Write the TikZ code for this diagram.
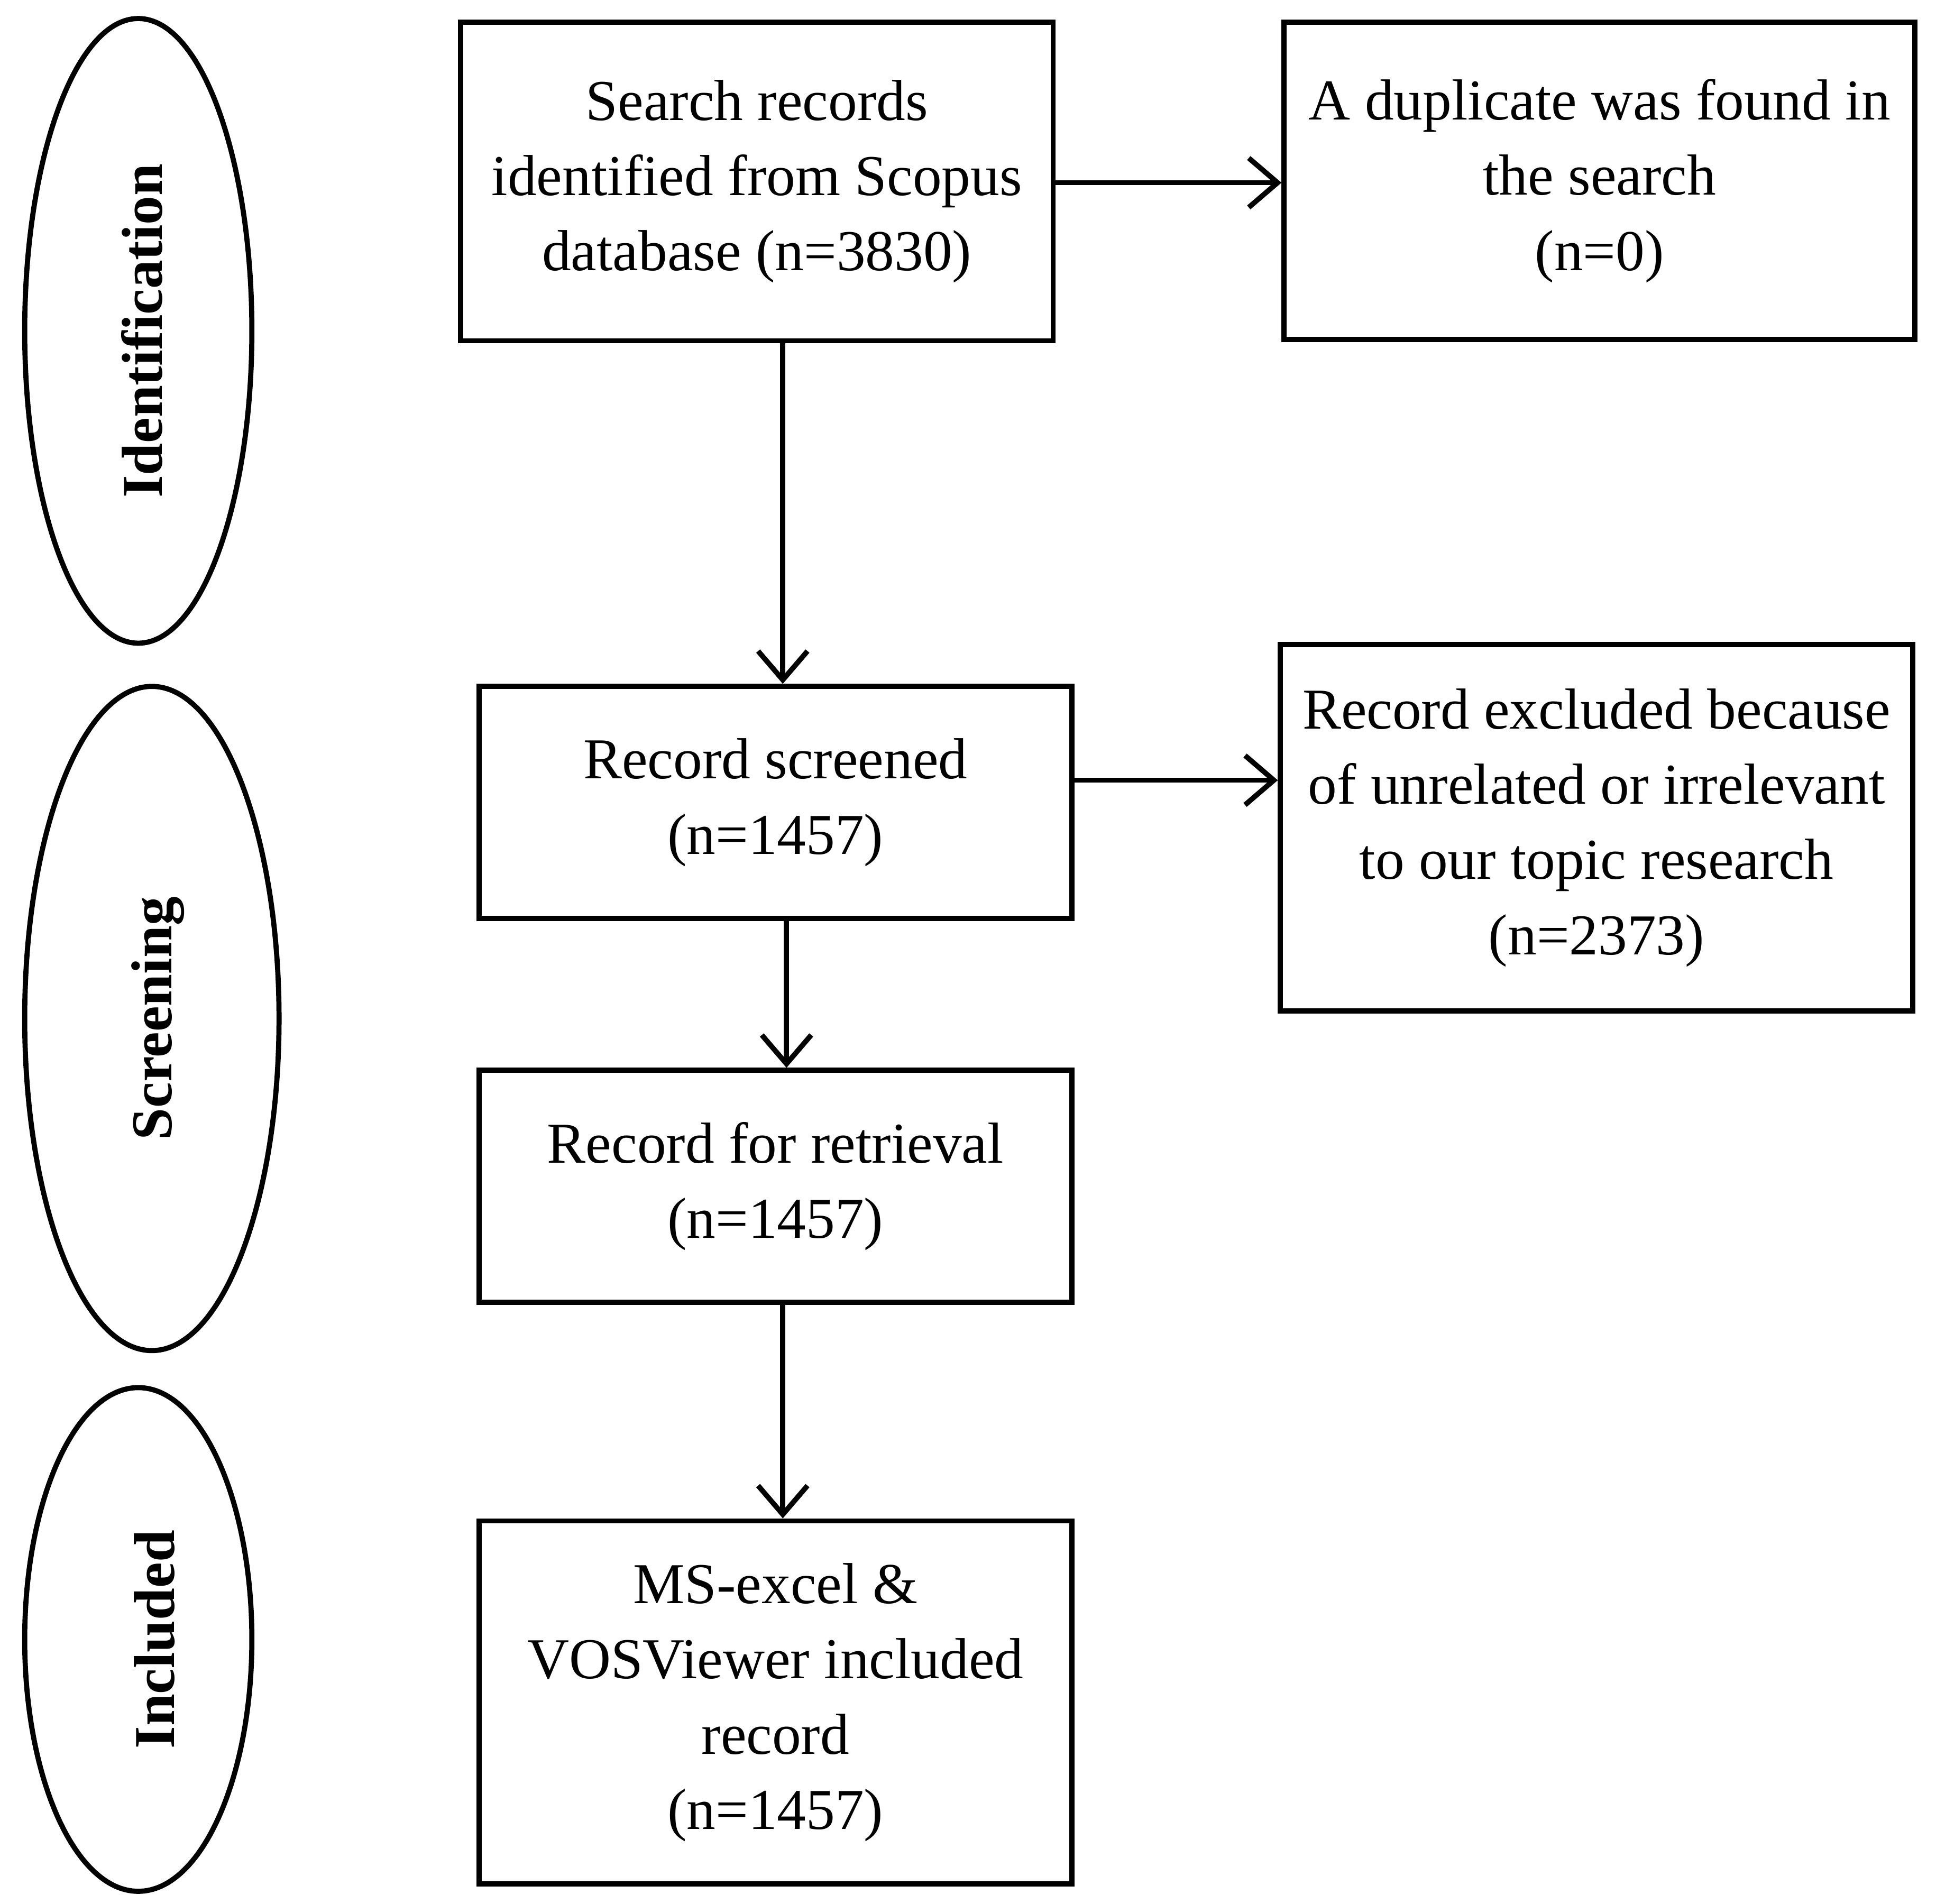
\documentclass[tikz,border=0pt]{standalone}
\usepackage{fontspec}
\setmainfont{Liberation Serif}
\usetikzlibrary{shapes.geometric,arrows.meta}
\begin{document}
\begin{tikzpicture}[x=0.3mm,y=-0.3mm,
  lw/.style={line width=1.25mm},
  box/.style={draw,lw,align=center,inner sep=0pt,font=\fontsize{40}{52}\selectfont},
  ell/.style={draw,lw,ellipse,inner sep=0pt},
  lab/.style={rotate=90,font=\fontsize{40}{48}\selectfont\bfseries},
  arr/.style={lw,-{Straight Barb[length=7mm,width=12mm,line width=1.25mm]}}]
\useasboundingbox (0,0) rectangle (1568,1542);
\node[ell,minimum width=184*0.3mm,minimum height=506*0.3mm] (e1) at (112,268) {};
\node[lab] (l1) at (115,268) {Identification};
\node[ell,minimum width=206*0.3mm,minimum height=538*0.3mm] (e2) at (123,825) {};
\node[lab] (l2) at (128,825) {Screening};
\node[ell,minimum width=184*0.3mm,minimum height=408*0.3mm] (e3) at (112,1328) {};
\node[lab] (l3) at (125,1328) {Included};
\node[box,minimum width=480*0.3mm,minimum height=258*0.3mm] (b1) at (613,147) {Search records\\identified from Scopus\\database (n=3830)};
\node[box,minimum width=511*0.3mm,minimum height=257*0.3mm] (b2) at (1295.5,146.5) {A duplicate was found in\\the search\\(n=0)};
\node[box,minimum width=480*0.3mm,minimum height=188*0.3mm] (b3) at (628,650) {Record screened\\(n=1457)};
\node[box,minimum width=512*0.3mm,minimum height=297*0.3mm] (b4) at (1293,670.5) {Record excluded because\\of unrelated or irrelevant\\to our topic research\\(n=2373)};
\node[box,minimum width=480*0.3mm,minimum height=188*0.3mm] (b5) at (628,961) {Record for retrieval\\(n=1457)};
\node[box,minimum width=480*0.3mm,minimum height=294*0.3mm] (b6) at (628,1379) {MS-excel \&\\VOSViewer included\\record\\(n=1457)};
\draw[arr] (b1.east |- 0,148) -- (b2.west |- 0,148);
\draw[arr] (b1.south -| 634,0) -- (b3.north -| 634,0);
\draw[arr] (b3.east |- 0,632) -- (b4.west |- 0,632);
\draw[arr] (b3.south -| 637,0) -- (b5.north -| 637,0);
\draw[arr] (b5.south -| 634,0) -- (b6.north -| 634,0);
\end{tikzpicture}
\end{document}
